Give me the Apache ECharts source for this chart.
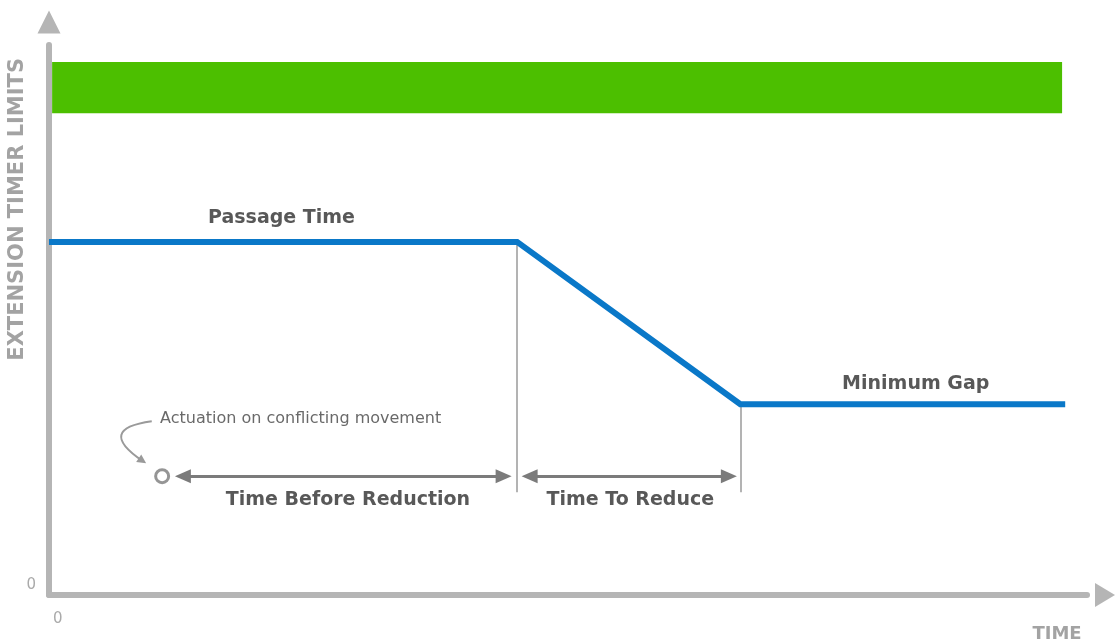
<!DOCTYPE html>
<html>
<head>
<meta charset="utf-8">
<script src="https://cdn.jsdelivr.net/npm/echarts@6/dist/echarts.min.js"></script>
<style>
  html, body { margin: 0; padding: 0; background: #ffffff; }
  #chart { width: 1117px; height: 642px; }
</style>
</head>
<body>
<div id="chart"></div>
<script>
// schematic: axis units are arbitrary 0..100
var timeX = [0, 45.1, 66.6, 97.9];
var timerY = [64.2, 64.2, 34.7, 34.7];

// green band (extension limits)
var bandX = [0.3, 97.6];
var bandY = [87.6, 96.9];

// thin guide lines down from the corners
var guideX = [45.1, 66.6];
var guideTop = [64.2, 34.7];
var guideBottom = 18.7;

// dimension arrows
var spanStart = [12.9, 46.3];
var spanEnd = [43.8, 65.5];
var spanY = 21.6;

var actuationPoint = [10.9, 21.6];
var curveFrom = [9.9, 31.6];
var curveTo = [9.0, 24.4];

var labelText = ["Passage Time", "Minimum Gap", "Time Before Reduction", "Time To Reduce"];
var labelX = [22.4, 83.5, 28.8, 56.0];
var labelY = [68.5, 38.4, 17.3, 17.3];

var noteText = "Actuation on conflicting movement";
var notePos = [10.7, 32.0];

var axisColor = "#b5b5b5";
var darkText = "#2e2e2e";
var arrowColor = "#7b7b7b";

var chart = echarts.init(document.getElementById("chart"));

var guides = [];
for (var i = 0; i < guideX.length; i++) {
  guides.push([{ coord: [guideX[i], guideTop[i]] }, { coord: [guideX[i], guideBottom] }]);
}
var spans = [];
for (var j = 0; j < spanStart.length; j++) {
  spans.push([{ coord: [spanStart[j], spanY] }, { coord: [spanEnd[j], spanY] }]);
}
var labels = [];
for (var k = 0; k < labelText.length; k++) {
  labels.push({ name: labelText[k], value: [labelX[k], labelY[k]] });
}

chart.setOption({
  animation: false,
  grid: { left: 49, right: 30, top: 45, bottom: 47, containLabel: false, outerBoundsMode: "none" },
  xAxis: {
    type: "value",
    min: 0,
    max: 100,
    name: "TIME",
    nameLocation: "end",
    nameGap: -30,
    nameMoveOverlap: false,
    nameTextStyle: {
      color: "#a3a3a3",
      fontFamily: "DejaVu Sans",
      fontWeight: "bold",
      fontSize: 18,
      align: "center",
      verticalAlign: "top",
      padding: [30, 0, 0, 0]
    },
    axisLine: {
      lineStyle: { color: axisColor, width: 6 },
      symbol: ["none", "triangle"],
      symbolSize: [24, 20],
      symbolOffset: [0, 18]
    },
    axisTick: { show: false },
    splitLine: { show: false },
    axisLabel: {
      customValues: [0],
      color: "#aaaaaa",
      fontFamily: "DejaVu Sans",
      fontSize: 15,
      align: "left",
      padding: [0, 0, 0, 4],
      margin: 17
    }
  },
  yAxis: {
    type: "value",
    min: 0,
    max: 100,
    name: "EXTENSION TIMER LIMITS",
    nameLocation: "end",
    nameRotate: 90,
    nameGap: -13,
    nameMoveOverlap: false,
    nameTextStyle: {
      color: "#a3a3a3",
      fontFamily: "DejaVu Sans",
      fontWeight: "bold",
      fontSize: 21,
      align: "right",
      verticalAlign: "bottom",
      padding: [0, 0, 21, 0]
    },
    axisLine: {
      lineStyle: { color: axisColor, width: 6 },
      symbol: ["none", "triangle"],
      symbolSize: [23, 23],
      symbolOffset: [0, 23]
    },
    axisTick: { show: false },
    splitLine: { show: false },
    axisLabel: {
      customValues: [0],
      color: "#aaaaaa",
      fontFamily: "DejaVu Sans",
      fontSize: 15,
      verticalAlign: "bottom",
      padding: [0, 0, 2, 0],
      margin: 13
    }
  },
  series: [
    {
      name: "Extension timer",
      type: "line",
      data: [],
      markArea: {
        silent: true,
        itemStyle: { color: "#4cbf00", opacity: 1 },
        data: [[{ coord: [bandX[0], bandY[0]] }, { coord: [bandX[1], bandY[1]] }]]
      },
      markLine: {
        silent: true,
        symbol: ["none", "none"],
        label: { show: false },
        lineStyle: { color: "#9a9a9a", width: 1.5, type: "solid" },
        data: guides
      },
      z: 1
    },
    {
      name: "Spans",
      type: "line",
      data: [],
      markLine: {
        silent: true,
        symbol: ["triangle", "triangle"],
        symbolSize: [14, 16],
        label: { show: false },
        lineStyle: { color: arrowColor, width: 3, type: "solid" },
        data: spans
      },
      z: 2
    },
    {
      name: "Note arrow",
      type: "lines",
      coordinateSystem: "cartesian2d",
      silent: true,
      symbol: ["none", "triangle"],
      symbolSize: [8, 9],
      lineStyle: { color: "#9a9a9a", width: 2, opacity: 1, curveness: -1.3 },
      data: [{ coords: [curveFrom, curveTo] }],
      z: 2
    },
    {
      name: "Gap time",
      type: "line",
      data: timeX.map(function (x, i) { return [x, timerY[i]]; }),
      showSymbol: false,
      symbol: "none",
      lineStyle: { color: "#0a78c8", width: 6, join: "miter" },
      z: 5
    },
    {
      name: "Actuation",
      type: "scatter",
      data: [actuationPoint],
      symbol: "circle",
      symbolSize: 13,
      itemStyle: { color: "#ffffff", borderColor: arrowColor, borderWidth: 3 },
      z: 6
    },
    {
      name: "Labels",
      type: "scatter",
      data: labels,
      symbolSize: 0,
      label: {
        show: true,
        position: [0, 0],
        align: "center",
        verticalAlign: "middle",
        formatter: "{b}",
        color: darkText,
        fontFamily: "DejaVu Sans",
        fontWeight: "bold",
        fontSize: 19
      },
      z: 6
    },
    {
      name: "Note",
      type: "scatter",
      data: [{ name: noteText, value: notePos }],
      symbolSize: 0,
      label: {
        show: true,
        position: [0, 0],
        align: "left",
        verticalAlign: "middle",
        formatter: "{b}",
        color: "#444444",
        fontFamily: "DejaVu Sans",
        fontSize: 16
      },
      z: 6
    }
  ]
});
</script>
</body>
</html>
